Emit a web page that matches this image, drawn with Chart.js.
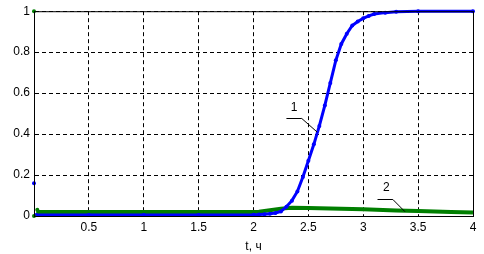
<!DOCTYPE html>
<html>
<head>
<meta charset="utf-8">
<script src="https://cdn.jsdelivr.net/npm/chart.js@4"></script>
<style>
  html, body { margin: 0; padding: 0; background: #fff; }
  #wrap { width: 484px; height: 254px; }
</style>
</head>
<body>
<div id="wrap"><canvas id="chart"></canvas></div>
<script>
// curve 1 (blue)
const t1 = [0.02, 0.5, 1.0, 1.5, 2.0, 2.05, 2.1, 2.15, 2.2, 2.25, 2.3, 2.35, 2.4, 2.45, 2.5,
            2.55, 2.6, 2.65, 2.7, 2.75, 2.8, 2.85, 2.9, 2.95, 3.0, 3.05, 3.1, 3.2, 3.3, 3.5, 4.0];
const y1 = [0.005, 0.005, 0.005, 0.005, 0.006, 0.007, 0.009, 0.011, 0.015, 0.022, 0.045, 0.075, 0.12, 0.19, 0.27,
            0.35, 0.44, 0.54, 0.65, 0.76, 0.84, 0.89, 0.93, 0.95, 0.965, 0.977, 0.986, 0.993, 0.997, 1.0, 1.0];
// curve 2 (green)
const t2 = [0.02, 0.5, 1.0, 1.5, 2.0, 2.05, 2.15, 2.25, 2.35, 2.5, 2.8, 3.0, 3.3, 3.5, 3.8, 4.0];
const y2 = [0.02, 0.02, 0.02, 0.02, 0.02, 0.021, 0.028, 0.036, 0.04, 0.039, 0.036, 0.033, 0.027, 0.024, 0.02, 0.017];
// stray points at t = 0
const greenDots = [[0, 1], [0, 0], [0.03, 0.03]];
const blueDots = [[0, 0.16]];

const xTicks = [0.5, 1, 1.5, 2, 2.5, 3, 3.5, 4];
const yTicks = [0, 0.2, 0.4, 0.6, 0.8, 1];

// curve labels with leader lines: [text, textX, textY, x0, y0, x1, y1, x2, y2]
const labels = [
  ['1', 2.37, 0.53, 2.30, 0.478, 2.44, 0.478, 2.58, 0.41],
  ['2', 3.21, 0.137, 3.13, 0.083, 3.27, 0.083, 3.38, 0.021]
];

const pts = (xs, ys) => xs.map((x, i) => ({ x: x, y: ys[i] }));
const FONT = { family: 'Arial, "Liberation Sans", sans-serif', size: 12 };

const frame = {
  id: 'frame',
  afterDraw(chart) {
    const { ctx, chartArea: a, scales: { x, y } } = chart;
    ctx.save();
    ctx.strokeStyle = '#000';
    ctx.lineWidth = 1;
    ctx.strokeRect(a.left + 0.5, a.top + 0.5, a.right - a.left, a.bottom - a.top);
    ctx.font = '12px Arial, "Liberation Sans", sans-serif';
    ctx.fillStyle = '#000';
    ctx.textAlign = 'center';
    ctx.textBaseline = 'middle';
    labels.forEach(l => {
      ctx.fillText(l[0], x.getPixelForValue(l[1]), y.getPixelForValue(l[2]));
      ctx.beginPath();
      ctx.moveTo(x.getPixelForValue(l[3]), Math.round(y.getPixelForValue(l[4])) + 0.5);
      ctx.lineTo(x.getPixelForValue(l[5]), Math.round(y.getPixelForValue(l[6])) + 0.5);
      ctx.lineTo(x.getPixelForValue(l[7]), y.getPixelForValue(l[8]));
      ctx.stroke();
    });
    ctx.restore();
  }
};

new Chart(document.getElementById('chart'), {
  type: 'line',
  data: {
    datasets: [
      {
        data: pts(t2, y2),
        borderColor: '#007f00',
        backgroundColor: '#007f00',
        borderWidth: 4,
        pointRadius: 0,
        order: 2
      },
      {
        data: pts(t1, y1),
        borderColor: '#0000ff',
        backgroundColor: '#0000ff',
        borderWidth: 3,
        pointRadius: 2,
        pointBorderWidth: 0,
        order: 1
      },
      {
        data: greenDots.map(p => ({ x: p[0], y: p[1] })),
        showLine: false,
        pointRadius: 2,
        pointBorderWidth: 0,
        backgroundColor: '#007f00'
      },
      {
        data: blueDots.map(p => ({ x: p[0], y: p[1] })),
        showLine: false,
        pointRadius: 2,
        pointBorderWidth: 0,
        backgroundColor: '#0000ff'
      }
    ]
  },
  options: {
    responsive: true,
    maintainAspectRatio: false,
    animation: false,
    clip: false,
    layout: { padding: { top: 11, right: 11, left: 0, bottom: 0 } },
    plugins: { legend: { display: false }, tooltip: { enabled: false } },
    scales: {
      x: {
        type: 'linear',
        min: 0,
        max: 4,
        afterBuildTicks: s => { s.ticks = xTicks.map(v => ({ value: v })); },
        afterFit: s => { s.height = 38; },
        ticks: { color: '#000', font: FONT, padding: 4, maxRotation: 0, callback: v => String(v) },
        grid: { color: '#000', lineWidth: 1, drawTicks: false, tickBorderDash: [], },
        border: { display: true, color: '#000', dash: [4, 3] },
        title: { display: true, text: 't, ч', color: '#000', font: FONT, padding: { top: 0, bottom: 0 } }
      },
      y: {
        min: 0,
        max: 1,
        afterBuildTicks: s => { s.ticks = yTicks.map(v => ({ value: v })); },
        afterFit: s => { s.width = 34; },
        ticks: { color: '#000', font: FONT, padding: 4, callback: v => String(v) },
        grid: { color: '#000', lineWidth: 1, drawTicks: false },
        border: { display: true, color: '#000', dash: [4, 3] }
      }
    }
  },
  plugins: [frame]
});
</script>
</body>
</html>
